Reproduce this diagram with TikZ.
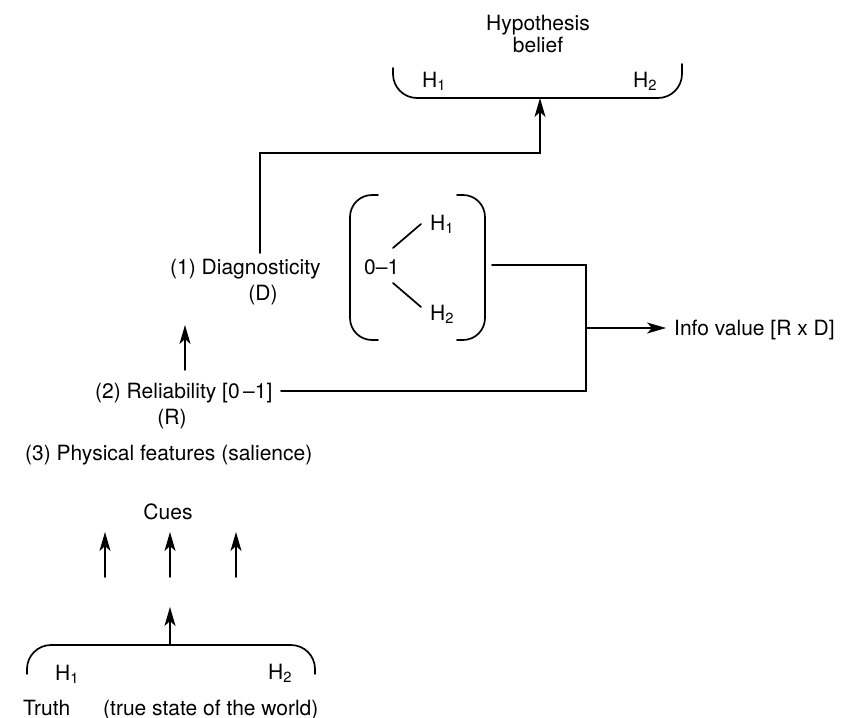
\documentclass[tikz,border=0pt]{standalone}
\usepackage{fontspec}
\setmainfont{TeX Gyre Heros}
\usetikzlibrary{arrows.meta}
\begin{document}
\begin{tikzpicture}[x=1pt,y=-1pt,
  lbl/.style={inner sep=0pt,font=\fontsize{21}{23}\selectfont},
  ln/.style={line width=1.7pt,line cap=round},
  arr/.style={ln,-{Stealth[length=19pt,width=11pt,inset=5pt]}},
  brk/.style={ln,rounded corners=24pt}]
\useasboundingbox (0,0) rectangle (847,718);
% texts
\node[lbl,anchor=base] (hyp) at (538,30) {Hypothesis};
\node[lbl,anchor=base] (bel) at (538,52) {belief};
\node[lbl,anchor=base west] (h1t) at (422,87) {H\textsubscript{1}};
\node[lbl,anchor=base west] (h2t) at (633,87) {H\textsubscript{2}};
\node[lbl,anchor=base west] (diag) at (170,274) {(1) Diagnosticity};
\node[lbl,anchor=base] (diagD) at (263,300) {(D)};
\node[lbl,anchor=base west] (zero) at (364,274) {0–1};
\node[lbl,anchor=base west] (h1m) at (430,230) {H\textsubscript{1}};
\node[lbl,anchor=base west] (h2m) at (430,320) {H\textsubscript{2}};
\node[lbl,anchor=base west] (info) at (674,335) {Info value [R x D]};
\node[lbl,anchor=base west] (rel) at (95,398) {(2) Reliability [0\,–1]};
\node[lbl,anchor=base] (relR) at (172,424) {(R)};
\node[lbl,anchor=base west] (phys) at (25,460) {(3) Physical features (salience)};
\node[lbl,anchor=base] (cues) at (168,519) {Cues};
\node[lbl,anchor=base west] (h1b) at (55,680) {H\textsubscript{1}};
\node[lbl,anchor=base west] (h2b) at (268,679) {H\textsubscript{2}};
\node[lbl,anchor=base west] (truth) at (23,715) {Truth};
\node[lbl,anchor=base west] (world) at (103,715) {(true state of the world)};
% coordinates
\coordinate (dtop) at (260,253);
\coordinate (dcorner) at (260,153);
\coordinate (hcorner) at (540,153);
\coordinate (hbot) at (540,98);
\coordinate (rtail) at (185,370);
\coordinate (rhead) at (185,325);
\coordinate (boxr) at (492,265);
\coordinate (jtop) at (586,265);
\coordinate (jbot) at (586,391);
\coordinate (relend) at (281,391);
\coordinate (jmid) at (586,328);
\coordinate (infoin) at (666,328);
\coordinate (zr1) at (393,248);
\coordinate (zr2) at (393,283);
\coordinate (h1e) at (421,224);
\coordinate (h2e) at (421,307);
\coordinate (tbot) at (170,645);
\coordinate (ttip) at (170,607);
\foreach \n/\x in {ca/105,cb/170,cc/236}{
  \coordinate (\n0) at (\x,577);
  \coordinate (\n1) at (\x,532);
}
% brackets
\draw[brk] (393,68) -- (393,98) -- (682,98) -- (682,64);
\draw[brk] (27,674) -- (27,645) -- (315,645) -- (315,674);
\draw[ln,rounded corners=22pt] (378,195) -- (350,195) -- (350,340) -- (378,340);
\draw[ln,rounded corners=22pt] (457,195) -- (485,195) -- (485,340) -- (457,340);
% connectors
\draw[arr] (dtop) -- (dcorner) -- (hcorner) -- (hbot);
\draw[arr] (rtail) -- (rhead);
\draw[ln] (boxr) -- (jtop) -- (jbot) -- (relend);
\draw[arr] (jmid) -- (infoin);
\draw[ln] (zr1) -- (h1e);
\draw[ln] (zr2) -- (h2e);
\draw[arr] (tbot) -- (ttip);
\foreach \n in {ca,cb,cc}{\draw[arr] (\n0) -- (\n1);}
\end{tikzpicture}
\end{document}
